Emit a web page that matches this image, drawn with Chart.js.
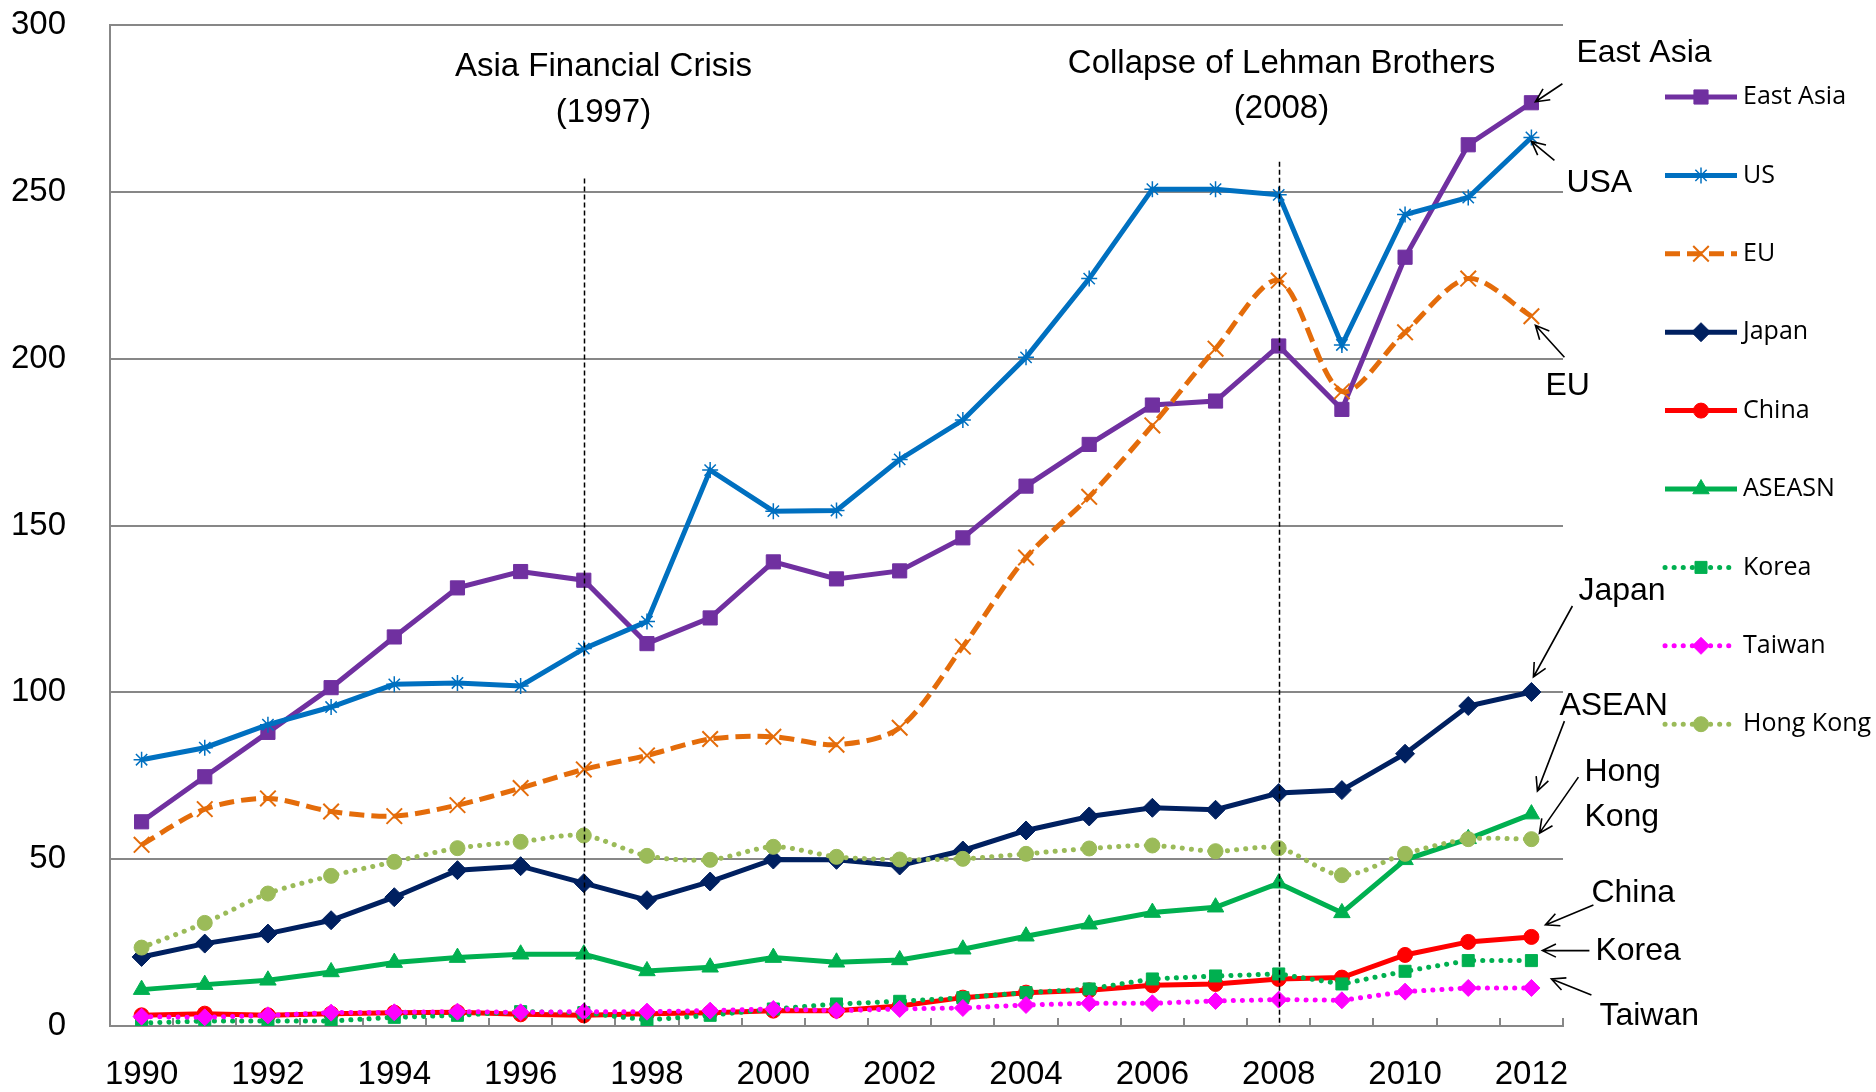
<!DOCTYPE html>
<html lang="en">
<head>
  <meta charset="UTF-8">
  <title>Trade Chart 1990-2012</title>
  <script src="https://cdn.jsdelivr.net/npm/chart.js"></script>
  <style>
    html, body { margin: 0; padding: 0; background: #fff; }
    #wrap { position: relative; width: 1876px; height: 1092px; }
  </style>
</head>
<body>
  <div id="wrap"><canvas id="tradeChart"></canvas></div>

  <script>
    // categories + tick labels
    const years = ['1990', '1991', '1992', '1993', '1994', '1995', '1996', '1997', '1998', '1999', '2000', '2001',
                   '2002', '2003', '2004', '2005', '2006', '2007', '2008', '2009', '2010', '2011', '2012'];
    const shownYears = ['1990', '1992', '1994', '1996', '1998', '2000', '2002', '2004', '2006', '2008', '2010', '2012'];
    const yTicks = [0, 50, 100, 150, 200, 250, 300];

    // series values
    const eastAsia = [61.2, 74.7, 88.0, 101.4, 116.6, 131.3, 136.2, 133.6, 114.6, 122.3, 139.1, 134.0,
                      136.4, 146.3, 161.8, 174.3, 186.1, 187.3, 203.8, 184.8, 230.4, 264.1, 276.7];
    const us = [79.8, 83.4, 90.3, 95.6, 102.4, 102.8, 101.9, 113.1, 121.2, 166.6, 154.3, 154.5,
                169.8, 181.6, 200.4, 224.0, 250.8, 250.8, 249.1, 204.1, 243.2, 248.3, 266.3];
    const eu = [54.3, 65.0, 68.2, 64.3, 62.9, 66.2, 71.3, 76.9, 81.1, 86.0, 86.7, 84.3,
                89.4, 113.7, 140.4, 158.6, 180.0, 203.0, 223.4, 190.2, 207.9, 224.0, 212.7];
    const japan = [20.7, 24.7, 27.7, 31.7, 38.6, 46.7, 47.9, 42.8, 37.7, 43.3, 49.9, 49.8,
                   48.1, 52.6, 58.6, 62.8, 65.4, 64.8, 69.8, 70.7, 81.6, 95.9, 100.1];
    const china = [3.2, 3.7, 3.2, 3.7, 4.0, 4.1, 3.5, 3.2, 3.7, 4.0, 4.6, 4.6,
                   6.0, 8.5, 10.0, 10.7, 12.2, 12.6, 14.1, 14.5, 21.3, 25.2, 26.7];
    const asean = [10.9, 12.4, 13.7, 16.2, 19.0, 20.5, 21.5, 21.5, 16.5, 17.6, 20.5, 19.1,
                   19.8, 23.0, 26.9, 30.5, 34.0, 35.6, 42.8, 33.9, 49.8, 56.1, 63.5];
    const korea = [0.9, 1.5, 1.5, 1.5, 2.6, 3.2, 4.3, 4.0, 1.8, 3.2, 5.1, 6.6,
                   7.4, 8.5, 10.0, 11.1, 14.1, 15.0, 15.6, 12.6, 16.4, 19.6, 19.6];
    const taiwan = [2.8, 2.6, 3.2, 4.0, 4.1, 4.3, 4.1, 4.3, 4.3, 4.6, 5.1, 4.6,
                    5.1, 5.4, 6.3, 6.8, 6.8, 7.5, 7.9, 7.7, 10.3, 11.4, 11.4];
    const hongKong = [23.5, 30.9, 39.7, 45.0, 49.2, 53.3, 55.2, 57.1, 51.0, 49.8, 53.7, 50.7,
                      49.9, 50.1, 51.6, 53.2, 54.1, 52.4, 53.3, 45.2, 51.6, 56.0, 56.0];

    // crisis markers: category index, where the dashed line starts (in y units), caption
    const events = [
      { index: 7,  top: 254, dx: 19, lines: ['Asia Financial Crisis', '(1997)'], ys: [67, 113] },
      { index: 18, top: 259, dx: 2,  lines: ['Collapse of Lehman Brothers', '(2008)'], ys: [64, 109] }
    ];

    // end labels with arrows, offsets in px from the series' last point
    const endNotes = [
      { series: 0, text: ['East Asia'], at: [45, -50], tail: [31, -19], tip: [4, -1] },
      { series: 1, text: ['USA'], at: [35, 46], tail: [23, 23], tip: [0, 4] },
      { series: 2, text: ['EU'], at: [14, 70], tail: [33, 41], tip: [4, 9] },
      { series: 3, text: ['Japan'], at: [47, -101], tail: [41, -86], tip: [2, -15] },
      { series: 5, text: ['ASEAN'], at: [28, -108], tail: [33, -93], tip: [6, -23] },
      { series: 8, text: ['Hong', 'Kong'], at: [53, -67], tail: [47, -62], tip: [8, -6] },
      { series: 4, text: ['China'], at: [60, -44], tail: [62, -32], tip: [14, -12] },
      { series: 6, text: ['Korea'], at: [64, -9], tail: [58, -10], tip: [11, -10] },
      { series: 7, text: ['Taiwan'], at: [68, 28], tail: [60, 7], tip: [20, -9] }
    ];

    const gridColor = '#878787';
    const mainFont = '"Liberation Sans", Arial, sans-serif';
    const dotted = [0.1, 9];

    Chart.defaults.font.family = mainFont;
    Chart.defaults.color = '#000';

    const line = (label, data, color, extra) => Object.assign({
      label, data,
      borderColor: color,
      backgroundColor: color,
      pointBackgroundColor: color,
      pointBorderColor: color,
      borderWidth: 5,
      pointBorderWidth: 1,
      tension: 0
    }, extra);

    const datasets = [
      line('East Asia', eastAsia, '#7030A0', { pointStyle: 'rect', pointRadius: 10 }),
      line('US', us, '#0070C0', { pointStyle: 'star', pointRadius: 8, pointBorderWidth: 1.5 }),
      line('EU', eu, '#E46C0A', { borderDash: [15, 7], pointStyle: 'crossRot', pointRadius: 11, pointBorderWidth: 2, tension: 0.3 }),
      line('Japan', japan, '#002060', { pointStyle: 'rectRot', pointRadius: 9.5 }),
      line('China', china, '#FF0000', { pointStyle: 'circle', pointRadius: 7.5 }),
      line('ASEASN', asean, '#00B050', { pointStyle: 'triangle', pointRadius: 9.5 }),
      line('Korea', korea, '#00B050', { borderDash: dotted, borderCapStyle: 'round', pointStyle: 'rect', pointRadius: 8.5 }),
      line('Taiwan', taiwan, '#FF00FF', { borderDash: dotted, borderCapStyle: 'round', pointStyle: 'rectRot', pointRadius: 8.5 }),
      line('Hong Kong', hongKong, '#9BBB59', { borderDash: dotted, borderCapStyle: 'round', pointStyle: 'circle', pointRadius: 7.5, tension: 0.3 })
    ];
    // later series on top, like the original
    datasets.forEach((ds, i) => { ds.order = datasets.length - i; });

    // small category tick marks pointing up from the axis
    const axisTicks = {
      id: 'axisTicks',
      beforeDatasetsDraw(chart) {
        const { ctx, scales: { x, y } } = chart;
        const base = y.getPixelForValue(0);
        ctx.save();
        ctx.strokeStyle = gridColor;
        ctx.lineWidth = 2;
        ctx.beginPath();
        for (let i = 0; i <= years.length; i++) {
          const px = Math.round(x.getPixelForValue(i - 0.5));
          ctx.moveTo(px, base);
          ctx.lineTo(px, base - 8);
        }
        ctx.stroke();
        ctx.restore();
      }
    };

    const arrow = (ctx, x0, y0, x1, y1) => {
      const ang = Math.atan2(y1 - y0, x1 - x0);
      const len = 15, spread = 0.45;
      ctx.beginPath();
      ctx.moveTo(x0, y0);
      ctx.lineTo(x1, y1);
      ctx.moveTo(x1 - len * Math.cos(ang - spread), y1 - len * Math.sin(ang - spread));
      ctx.lineTo(x1, y1);
      ctx.lineTo(x1 - len * Math.cos(ang + spread), y1 - len * Math.sin(ang + spread));
      ctx.stroke();
    };

    const notes = {
      id: 'notes',
      afterDatasetsDraw(chart) {
        const { ctx, scales: { x, y } } = chart;
        ctx.save();
        ctx.fillStyle = '#000';
        ctx.strokeStyle = '#000';

        // crisis lines and captions
        events.forEach(ev => {
          const px = Math.round(x.getPixelForValue(ev.index)) + 0.5;
          ctx.lineWidth = 1.5;
          ctx.setLineDash([5, 3]);
          ctx.beginPath();
          ctx.moveTo(px, y.getPixelForValue(ev.top));
          ctx.lineTo(px, y.getPixelForValue(0));
          ctx.stroke();
          ctx.setLineDash([]);
          ctx.font = '33px ' + mainFont;
          ctx.textAlign = 'center';
          ctx.textBaseline = 'middle';
          ev.lines.forEach((t, k) => ctx.fillText(t, px + ev.dx, ev.ys[k]));
        });

        // series end labels
        ctx.font = '32px ' + mainFont;
        ctx.textAlign = 'left';
        ctx.textBaseline = 'middle';
        ctx.lineWidth = 1.6;
        endNotes.forEach(n => {
          const data = chart.data.datasets[n.series].data;
          const last = data.length - 1;
          const px = x.getPixelForValue(last);
          const py = y.getPixelForValue(data[last]);
          n.text.forEach((t, k) => ctx.fillText(t, px + n.at[0], py + n.at[1] + k * 45));
          arrow(ctx, px + n.tail[0], py + n.tail[1], px + n.tip[0], py + n.tip[1]);
        });
        ctx.restore();
      }
    };

    // legend on the right: line sample + the dataset's own point element
    const legendBox = { x0: 1665, x1: 1737, textX: 1743, top: 97, step: 78.4 };
    const sideLegend = {
      id: 'sideLegend',
      afterDraw(chart) {
        const ctx = chart.ctx;
        ctx.save();
        chart.data.datasets.forEach((ds, i) => {
          const meta = chart.getDatasetMeta(i);
          const lo = meta.dataset.options;
          const yy = legendBox.top + i * legendBox.step;
          ctx.strokeStyle = lo.borderColor;
          ctx.lineWidth = lo.borderWidth;
          ctx.lineCap = lo.borderCapStyle || 'butt';
          ctx.setLineDash(lo.borderDash || []);
          ctx.beginPath();
          ctx.moveTo(legendBox.x0, yy);
          ctx.lineTo(legendBox.x1, yy);
          ctx.stroke();
          ctx.setLineDash([]);
          ctx.lineCap = 'butt';

          const ref = meta.data[0];
          const P = ref.constructor;
          const pt = new P({ x: (legendBox.x0 + legendBox.x1) / 2, y: yy, options: ref.options });
          pt.draw(ctx);

          ctx.fillStyle = '#000';
          ctx.font = '25px "Open Sans", "Noto Sans", sans-serif';
          ctx.textAlign = 'left';
          ctx.textBaseline = 'middle';
          ctx.fillText(ds.label, legendBox.textX, yy);
        });
        ctx.restore();
      }
    };

    new Chart(document.getElementById('tradeChart'), {
      type: 'line',
      data: { labels: years, datasets },
      options: {
        responsive: true,
        maintainAspectRatio: false,
        animation: false,
        layout: { padding: { top: 25, right: 313, bottom: 0, left: 0 } },
        plugins: {
          legend: { display: false },
          tooltip: { enabled: false }
        },
        scales: {
          x: {
            offset: true,
            grid: { display: false, drawTicks: false },
            border: { display: true, color: gridColor, width: 2 },
            ticks: {
              autoSkip: false,
              maxRotation: 0,
              padding: 29,
              font: { size: 33 },
              callback: (v, i) => shownYears.includes(years[i]) ? years[i] : ''
            },
            afterFit: s => { s.height = 66; }
          },
          y: {
            min: 0,
            max: 300,
            afterBuildTicks: s => { s.ticks = yTicks.map(v => ({ value: v })); },
            grid: { color: gridColor, lineWidth: 2, drawTicks: false },
            border: { display: true, color: gridColor, width: 2 },
            ticks: { padding: 44, font: { size: 33 } },
            // the wide label gap should not push the plot top down
            afterFit: s => { s.width = 110; s.paddingTop = 20; s.paddingBottom = 20; }
          }
        }
      },
      plugins: [axisTicks, notes, sideLegend]
    });
  </script>
</body>
</html>
